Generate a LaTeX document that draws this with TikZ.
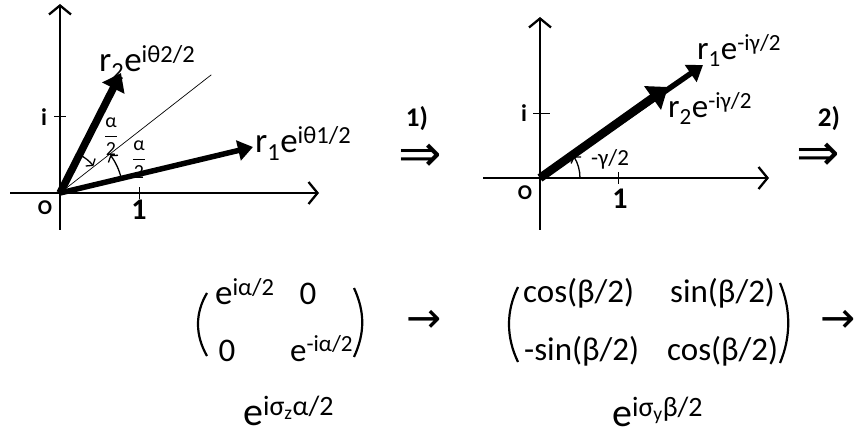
\documentclass[tikz,border=0pt]{standalone}
\usepackage{fontspec}
\usepackage{amsmath}
\setmainfont{Carlito}
\newfontfamily\arrowfont{DejaVu Sans}
\usetikzlibrary{arrows.meta}
\usetikzlibrary{calc}

\newcommand{\fsz}[1]{\fontsize{#1}{#1}\selectfont}
\newcommand{\halfof}[1]{$\displaystyle\frac{\text{#1}}{\text{2}}$}

\tikzset{
  axis/.style={line width=2.3pt, -{Straight Barb[length=9pt,width=22pt]}},
  tick/.style={line width=0.9pt},
  lbl/.style={inner sep=0pt, anchor=base west, font=\fsz{35}},
  axlbl/.style={inner sep=0pt, font=\fsz{30}\bfseries},
  matlbl/.style={inner sep=0pt, anchor=base west, font=\fsz{33}},
  explbl/.style={inner sep=0pt, anchor=base west, font=\fsz{40}},
  paren/.style={line width=2.2pt},
  imp/.style={inner sep=0pt, font=\arrowfont\fsz{52}},
  go/.style={inner sep=0pt, font=\arrowfont\fsz{42}},
}

\begin{document}
\begin{tikzpicture}[x=1pt, y=1pt]
    \useasboundingbox (0,0) rectangle (857,437);
    % first plane
    \coordinate (oA) at (60,244);
    \coordinate (xA0) at (10,244);
    \coordinate (xA1) at (319,244);
    \coordinate (yA0) at (60,207);
    \coordinate (yA1) at (60,433);
    \draw[axis] (xA0) -- (xA1);
    \draw[axis] (yA0) -- (yA1);
    \draw[tick] (139,238) -- (139,250);
    \draw[tick] (54,321) -- (66,321);
    \node[axlbl] (oneA) at (139,227) {1};
    \node[axlbl, font=\fsz{24}\bfseries] (iA) at (44,320) {i};
    \node[axlbl, font=\fsz{21}\bfseries] (oA lbl) at (45,229) {O};
    \coordinate (bisA) at ($(oA)+(38:192)$);
    \coordinate (tipB) at (121,364);
    \coordinate (tipA) at (253,290);
    \draw[line width=0.7pt] (oA) -- (bisA);
    \draw[line width=7.5pt, -{Triangle[length=17pt,width=24pt]}] (oA) -- (tipB);
    \draw[line width=5.5pt, -{Triangle[length=15pt,width=20pt]}] (oA) -- (tipA);
    \draw[line width=1.3pt, -{Straight Barb[length=4pt,width=12pt]}]
        ($(oA)+(63:43)$) arc[start angle=63, end angle=39, radius=43];
    \draw[line width=1.3pt, -{Straight Barb[length=4pt,width=12pt]}]
        ($(oA)+(14:63)$) arc[start angle=14, end angle=37, radius=63];
    \node[inner sep=0pt, font=\fsz{20}] (halfB) at (111,300) {\halfof{α}};
    \node[inner sep=0pt, font=\fsz{20}] (halfA) at (139,277) {\halfof{α}};
    \node[lbl] (rB) at (99,365) {r\textsubscript{2}e\textsuperscript{iθ2/2}};
    \node[lbl] (rA) at (255,284) {r\textsubscript{1}e\textsuperscript{iθ1/2}};

    % step 1
    \node[axlbl, font=\fsz{27}\bfseries] (step1) at (417,318) {1)};
    \node[imp] (imp1) at (420,279) {⇒};

    % second plane
    \coordinate (oB) at (540,259);
    \coordinate (xB0) at (483,259);
    \coordinate (xB1) at (769,259);
    \coordinate (yB0) at (540,207);
    \coordinate (yB1) at (540,420);
    \draw[axis] (xB0) -- (xB1);
    \draw[axis] (yB0) -- (yB1);
    \draw[tick] (618,253) -- (618,265);
    \draw[tick] (533,324) -- (550,324);
    \node[axlbl] (oneB) at (620,238) {1};
    \node[axlbl, font=\fsz{24}\bfseries] (iB) at (524,324) {i};
    \node[axlbl, font=\fsz{21}\bfseries] (oB lbl) at (525,244) {O};
    \coordinate (tipD) at (668,350);
    \coordinate (tipC) at (703,372);
    \draw[line width=8.5pt, -{Triangle[length=19pt,width=28pt]}] (oB) -- (tipD);
    \draw[line width=5.5pt, -{Triangle[length=15pt,width=20pt]}] (oB) -- (tipC);
    \draw[line width=1.3pt, -{Straight Barb[length=4pt,width=12pt]}]
        ($(oB)+(0:40)$) arc[start angle=0, end angle=33, radius=40];
    \node[inner sep=0pt, font=\fsz{23}] (gam) at (610,278) {-γ/2};
    \node[lbl, font=\fsz{33}] (rC) at (697,377) {r\textsubscript{1}e\textsuperscript{-iγ/2}};
    \node[lbl, font=\fsz{33}] (rD) at (668,319) {r\textsubscript{2}e\textsuperscript{-iγ/2}};

    % step 2
    \node[axlbl, font=\fsz{27}\bfseries] (step2) at (829,318) {2)};
    \node[imp] (imp2) at (818,280) {⇒};

    % matrices
    \draw[paren] (207,144) .. controls (195,124) and (195,102) .. (207,81);
    \draw[paren] (354,149) .. controls (365,125) and (365,104) .. (354,80);
    \node[matlbl, font=\fsz{35}] (zA) at (215,132) {e\textsuperscript{iα/2}};
    \node[matlbl, anchor=base] (zB) at (308,132) {0};
    \node[matlbl, anchor=base] (zC) at (227,76) {0};
    \node[matlbl, font=\fsz{33}] (zD) at (290,76) {e\textsuperscript{-iα/2}};
    \node[explbl] (zexp) at (243,12) {e\textsuperscript{iσ\textsubscript{z}α/2}};
    \node[go] (go1) at (424,116) {→};

    \draw[paren] (518,150) .. controls (506,126) and (506,100) .. (518,75);
    \draw[paren] (780,154) .. controls (791,128) and (791,100) .. (780,74);
    \node[matlbl] (yA) at (523,135) {cos(β/2)};
    \node[matlbl] (yB) at (670,135) {sin(β/2)};
    \node[matlbl] (yC) at (524,77) {-sin(β/2)};
    \node[matlbl] (yD) at (667,77) {cos(β/2)};
    \node[explbl] (yexp) at (612,11) {e\textsuperscript{iσ\textsubscript{y}β/2}};
    \node[go] (go2) at (838,116) {→};
\end{tikzpicture}
\end{document}
